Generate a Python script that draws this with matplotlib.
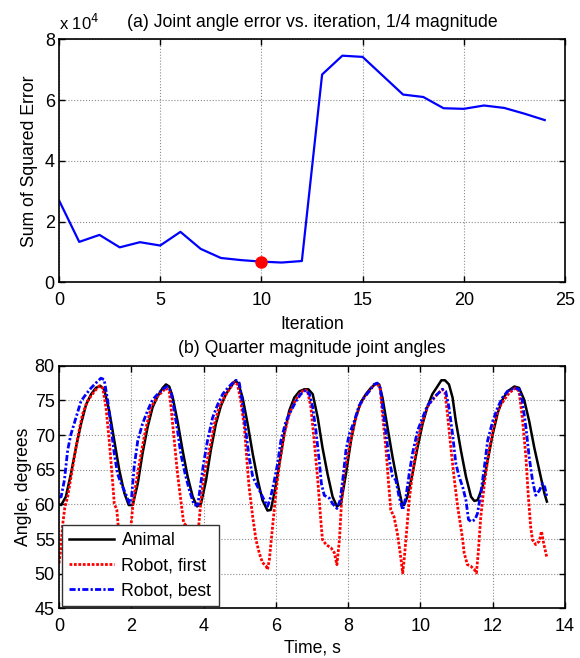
import numpy as np
import matplotlib
matplotlib.use('Agg')
import matplotlib.pyplot as plt

plt.rcParams['font.family'] = ['Liberation Sans', 'DejaVu Sans']
plt.rcParams['font.size'] = 12.7
plt.rcParams['axes.titlesize'] = 12.7


# ------------------------------------------------------------------------
#### (a) error per iteration
iteration = np.arange(25)
sq_error = [27000, 13300, 15600, 11500, 13200, 12100, 16600, 11000, 8000, 7300,
            6800, 6500, 7000, 68400, 74600, 74200, 68000, 61800, 61000, 57300,
            57100, 58200, 57400, 55500, 53400]
best_iter = 10

#### (b) joint angle traces, (time s, angle deg)
animal = [
    (0.00, 60.0), (0.06, 59.9), (0.19, 61.1), (0.33, 64.4), (0.47, 68.2), (0.61, 71.6),
    (0.75, 74.4), (0.89, 75.9), (1.02, 76.8), (1.14, 77.1), (1.25, 76.6), (1.39, 73.5),
    (1.53, 69.2), (1.67, 64.9), (1.81, 61.6), (1.93, 59.9), (2.04, 59.9), (2.18, 63.0),
    (2.31, 67.3), (2.45, 71.1), (2.59, 74.0), (2.73, 75.6), (2.87, 76.8), (2.96, 77.3),
    (3.05, 77.0), (3.14, 75.6), (3.28, 72.0), (3.42, 67.8), (3.56, 64.0), (3.70, 61.1),
    (3.82, 59.7), (3.93, 60.1), (4.07, 63.5), (4.20, 67.8), (4.34, 71.6), (4.48, 74.2),
    (4.62, 75.9), (4.76, 77.0), (4.87, 77.8), (4.96, 77.5), (5.08, 75.4), (5.22, 71.6),
    (5.36, 67.3), (5.50, 63.5), (5.63, 60.6), (5.77, 59.1), (5.86, 59.2), (5.96, 61.6),
    (6.10, 65.9), (6.23, 70.1), (6.37, 73.5), (6.51, 75.4), (6.65, 76.3), (6.79, 76.6),
    (6.90, 76.6), (7.02, 75.9), (7.16, 72.5), (7.29, 68.2), (7.43, 64.4), (7.57, 61.1),
    (7.69, 59.7), (7.80, 60.1), (7.94, 64.4), (8.08, 69.2), (8.21, 72.5), (8.35, 74.7),
    (8.49, 75.9), (8.63, 76.8), (8.77, 77.4), (8.86, 77.3), (8.95, 75.4), (9.09, 71.1),
    (9.23, 66.8), (9.37, 63.0), (9.49, 60.1), (9.55, 59.9), (9.64, 61.1), (9.78, 64.4),
    (9.92, 68.2), (10.06, 71.6), (10.19, 74.0), (10.33, 75.9), (10.47, 77.0), (10.58, 77.9),
    (10.68, 77.9), (10.79, 77.3), (10.89, 75.4), (10.98, 72.0), (11.12, 67.8), (11.26, 64.0),
    (11.40, 61.1), (11.49, 60.5), (11.58, 60.6), (11.72, 62.5), (11.86, 66.3), (12.00, 70.1),
    (12.14, 73.2), (12.27, 75.1), (12.41, 76.3), (12.60, 77.0), (12.73, 76.8), (12.87, 75.1),
    (13.01, 72.0), (13.15, 68.2), (13.29, 64.9), (13.43, 61.6), (13.50, 60.4),
]
robot_first = [
    (0.00, 51.5), (0.05, 53.5), (0.10, 57.0), (0.16, 59.5), (0.24, 61.1), (0.38, 65.4),
    (0.52, 69.7), (0.65, 73.0), (0.79, 74.9), (0.98, 76.3), (1.12, 77.1), (1.21, 76.8),
    (1.30, 74.0), (1.39, 69.2), (1.48, 63.5), (1.53, 60.1), (1.60, 59.2), (1.64, 56.8),
    (1.72, 53.5), (1.82, 51.0), (1.92, 52.5), (1.99, 56.6), (2.04, 59.7), (2.13, 63.0),
    (2.27, 67.3), (2.41, 71.1), (2.55, 74.0), (2.73, 75.6), (2.87, 76.3), (2.96, 76.8),
    (3.05, 76.3), (3.10, 74.0), (3.19, 69.2), (3.28, 64.4), (3.37, 60.6), (3.45, 57.3),
    (3.51, 57.0), (3.56, 56.3), (3.65, 53.5), (3.74, 51.5), (3.80, 53.0), (3.86, 56.6),
    (3.93, 60.6), (4.02, 64.4), (4.16, 67.8), (4.30, 71.6), (4.43, 74.0), (4.57, 75.4),
    (4.71, 76.6), (4.85, 77.6), (4.94, 77.3), (5.03, 74.9), (5.13, 71.1), (5.20, 66.3),
    (5.26, 62.5), (5.36, 58.2), (5.45, 54.9), (5.54, 53.0), (5.63, 51.6), (5.73, 51.1),
    (5.77, 50.6), (5.82, 52.0), (5.91, 56.8), (6.00, 61.6), (6.10, 65.9), (6.23, 70.1),
    (6.37, 73.0), (6.51, 74.7), (6.65, 75.9), (6.79, 76.6), (6.88, 76.3), (6.97, 74.0),
    (7.06, 69.2), (7.16, 63.5), (7.25, 57.3), (7.29, 54.9), (7.39, 54.2), (7.53, 53.7),
    (7.62, 53.0), (7.69, 51.3), (7.76, 54.9), (7.82, 60.6), (7.89, 64.4), (8.03, 68.2),
    (8.17, 71.6), (8.30, 74.0), (8.44, 75.4), (8.58, 76.3), (8.72, 77.3), (8.81, 77.4),
    (8.89, 76.6), (8.95, 73.0), (9.05, 67.8), (9.12, 63.0), (9.18, 59.2), (9.27, 58.2),
    (9.36, 55.9), (9.44, 53.0), (9.51, 50.1), (9.55, 52.0), (9.63, 56.8), (9.69, 60.6),
    (9.78, 64.4), (9.92, 69.2), (10.06, 72.0), (10.19, 74.0), (10.33, 75.1), (10.47, 75.9),
    (10.61, 76.6), (10.68, 76.1), (10.75, 73.0), (10.85, 67.8), (10.94, 63.5), (11.03, 59.7),
    (11.10, 57.3), (11.17, 54.9), (11.21, 53.0), (11.30, 51.3), (11.39, 51.1), (11.49, 50.6),
    (11.55, 50.1), (11.60, 53.0), (11.67, 58.2), (11.77, 63.0), (11.90, 67.8), (12.04, 71.6),
    (12.18, 74.0), (12.32, 75.1), (12.46, 76.1), (12.64, 76.8), (12.73, 76.3), (12.82, 72.5),
    (12.92, 66.8), (12.98, 61.6), (13.05, 56.8), (13.10, 54.9), (13.19, 54.2), (13.29, 54.7),
    (13.35, 56.1), (13.41, 54.4), (13.50, 52.3),
]
robot_best = [
    (0.00, 61.0), (0.06, 61.1), (0.15, 63.5), (0.24, 67.8), (0.33, 70.1), (0.47, 72.5),
    (0.61, 74.9), (0.75, 75.9), (0.89, 76.8), (1.02, 77.5), (1.16, 78.2), (1.25, 78.0),
    (1.35, 74.9), (1.44, 71.1), (1.53, 67.3), (1.62, 64.4), (1.72, 63.0), (1.84, 61.6),
    (1.95, 60.1), (2.01, 61.1), (2.08, 65.4), (2.18, 69.2), (2.31, 71.6), (2.45, 73.5),
    (2.59, 75.1), (2.73, 75.9), (2.87, 76.6), (2.99, 77.0), (3.10, 76.3), (3.19, 73.5),
    (3.28, 70.6), (3.37, 67.3), (3.49, 64.4), (3.61, 62.0), (3.74, 59.9), (3.84, 59.9),
    (3.91, 62.5), (4.00, 65.9), (4.11, 69.2), (4.25, 72.5), (4.39, 74.4), (4.53, 75.9),
    (4.67, 76.8), (4.80, 77.5), (4.90, 77.9), (4.99, 77.5), (5.08, 74.4), (5.17, 70.6),
    (5.26, 66.8), (5.36, 64.0), (5.50, 62.5), (5.63, 61.1), (5.77, 59.7), (5.86, 61.1),
    (5.96, 63.5), (6.05, 65.9), (6.14, 69.2), (6.28, 72.0), (6.42, 73.5), (6.56, 74.9),
    (6.69, 75.9), (6.83, 76.5), (6.93, 75.9), (7.02, 74.0), (7.11, 70.6), (7.20, 66.3),
    (7.26, 63.0), (7.34, 61.3), (7.48, 60.9), (7.57, 60.1), (7.69, 59.4), (7.78, 60.6),
    (7.85, 63.5), (7.94, 67.8), (8.03, 70.1), (8.17, 72.0), (8.30, 74.2), (8.44, 75.4),
    (8.58, 76.3), (8.72, 77.3), (8.81, 77.5), (8.89, 76.8), (8.95, 74.4), (9.05, 70.1),
    (9.14, 66.3), (9.23, 64.0), (9.32, 63.5), (9.41, 61.1), (9.51, 59.2), (9.60, 61.1),
    (9.69, 64.4), (9.78, 67.3), (9.92, 70.6), (10.06, 72.5), (10.19, 74.2), (10.33, 75.1),
    (10.47, 75.9), (10.61, 76.6), (10.70, 76.3), (10.79, 74.0), (10.89, 70.1), (10.98, 65.9),
    (11.07, 64.0), (11.17, 62.5), (11.26, 60.6), (11.33, 57.8), (11.41, 57.5), (11.51, 57.8),
    (11.58, 58.7), (11.67, 61.6), (11.77, 65.4), (11.86, 69.2), (12.00, 72.0), (12.14, 74.0),
    (12.27, 75.4), (12.41, 76.3), (12.60, 76.8), (12.73, 76.6), (12.82, 74.9), (12.92, 71.1),
    (13.01, 66.8), (13.10, 63.5), (13.19, 61.3), (13.29, 62.0), (13.38, 63.0), (13.44, 62.5),
    (13.50, 61.1),
]
labels = ['Animal', 'Robot, first', 'Robot, best']


def matlab_axes(ax):
    ax.grid(True, linestyle=':', color='#8c8c8c', linewidth=0.8)
    ax.tick_params(direction='in', length=4, width=1, top=True, right=True, labelsize=13)
    ax.tick_params(axis='x', pad=7)
    ax.tick_params(axis='y', pad=3)
    for s in ax.spines.values():
        s.set_linewidth(1.2)


fig = plt.figure(figsize=(5.8, 6.58), dpi=100)
ax1 = fig.add_axes([0.1017, 0.571, 0.8724, 0.3693])
ax2 = fig.add_axes([0.1017, 0.0755, 0.8724, 0.3687])

# ------------------------------------------------------------------------
#### panel (a)
err = np.array(sq_error) / 1e4
ax1.plot(iteration, err, color='#0000ff', linewidth=1.6)
ax1.plot(iteration[best_iter], err[best_iter], 'o', color='#ff0000', markersize=8, zorder=5)
ax1.set_xlim(0, 25)
ax1.set_ylim(0, 8)
ax1.set_xticks(np.arange(0, 26, 5))
ax1.set_yticks(np.arange(0, 9, 2))
matlab_axes(ax1)
ax1.set_xlabel('Iteration', labelpad=5)
ax1.set_ylabel('Sum of Squared Error', labelpad=5)
ax1.set_title('(a) Joint angle error vs. iteration, 1/4 magnitude', pad=9)
ax1.text(0.0, 1.025, r'x 10$^4$', transform=ax1.transAxes, ha='left', va='bottom',
         fontsize=12)

# ------------------------------------------------------------------------
#### panel (b)
styles = [dict(color='black', linestyle='-', linewidth=1.8),
          dict(color='#ff0000', linestyle=(0, (1, 0.6)), linewidth=2.0),
          dict(color='#0000ff', linestyle=(0, (2.2, 0.8, 0.8, 0.8)), linewidth=2.0)]
for trace, lab, st in zip([animal, robot_first, robot_best], labels, styles):
    t, ang = np.array(trace).T
    ax2.plot(t, ang, label=lab, **st)
ax2.set_xlim(0, 14)
ax2.set_ylim(45, 80)
ax2.set_xticks(np.arange(0, 15, 2))
ax2.set_yticks(np.arange(45, 81, 5))
matlab_axes(ax2)
ax2.set_xlabel('Time, s', labelpad=3)
ax2.set_ylabel('Angle, degrees', labelpad=2)
ax2.set_title('(b) Quarter magnitude joint angles', pad=9)
leg = ax2.legend(loc='lower left', bbox_to_anchor=(0.005, 0.009), fancybox=False,
                 framealpha=1, edgecolor='#333333', handlelength=2.6,
                 handletextpad=0.4, labelspacing=0.45, borderpad=0.4,
                 borderaxespad=0)
leg.get_frame().set_linewidth(1.0)

fig.savefig('out.png', dpi=100)
